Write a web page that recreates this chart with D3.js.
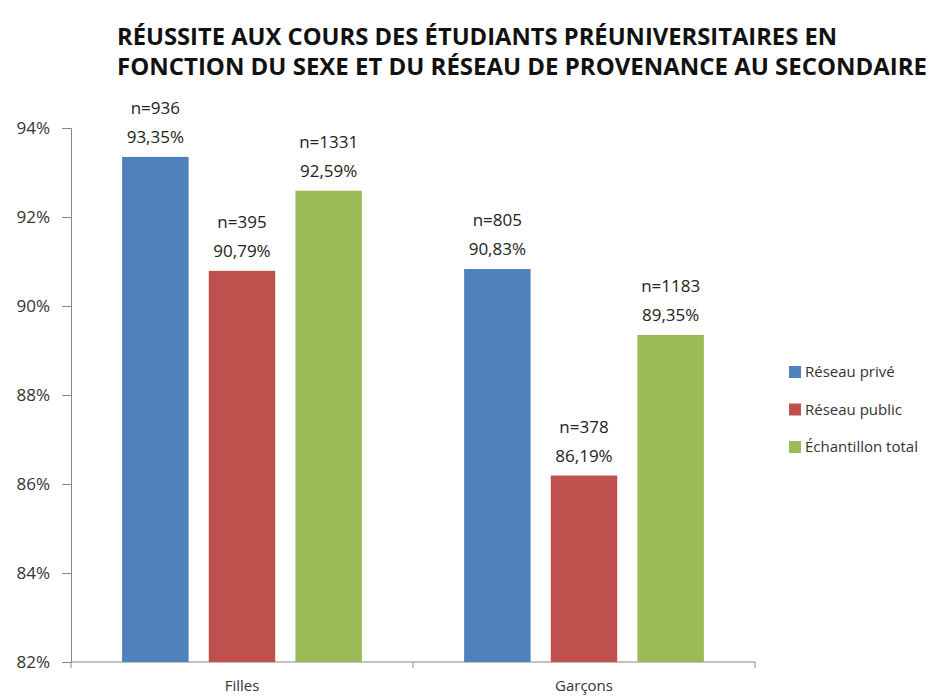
<!DOCTYPE html>
<html>
<head>
<meta charset="utf-8">
<script src="https://cdn.jsdelivr.net/npm/d3@7"></script>
<style>
  body { margin: 0; background: #fff; }
  text { font-family: "Open Sans", sans-serif; fill: #222; }
</style>
</head>
<body>
<script>
// données
const groupes = ["Filles", "Garçons"];
const series = ["Réseau privé", "Réseau public", "Échantillon total"];
const couleurs = ["#4f81bd", "#c0504d", "#9bbb59"];
const valFilles = [93.35, 90.79, 92.59];
const valGarcons = [90.83, 86.19, 89.35];
const nFilles = [936, 395, 1331];
const nGarcons = [805, 378, 1183];
const graduations = [82, 84, 86, 88, 90, 92, 94];

const valeurs = [valFilles, valGarcons];
const effectifs = [nFilles, nGarcons];

const svg = d3.select("body").append("svg")
  .attr("width", 939)
  .attr("height", 697);

// titre
const titre = ["RÉUSSITE AUX COURS DES ÉTUDIANTS PRÉUNIVERSITAIRES EN",
               "FONCTION DU SEXE ET DU RÉSEAU DE PROVENANCE AU SECONDAIRE"];
const longueurs = [720, 810];
svg.selectAll("text.titre")
  .data(titre)
  .enter().append("text")
  .attr("class", "titre")
  .attr("x", 117)
  .attr("y", (d, i) => 45 + i * 30)
  .attr("textLength", (d, i) => longueurs[i])
  .attr("lengthAdjust", "spacingAndGlyphs")
  .style("font-size", "23px")
  .style("font-weight", "bold")
  .style("fill", "#111")
  .text(d => d);

// échelles
const x0 = d3.scaleBand().domain(groupes).range([71, 755]);
const x1 = d3.scaleBand().domain(series).range([0, x0.bandwidth()])
  .paddingInner(0.233).paddingOuter(0.59);
const y = d3.scaleLinear().domain([82, 94]).range([662, 128]);

// axe vertical
const axeY = svg.append("g")
  .attr("transform", "translate(71,0)")
  .call(d3.axisLeft(y).tickValues(graduations).tickSize(9).tickPadding(12)
    .tickFormat(d => d + "%"));
axeY.selectAll("path, line").attr("stroke", "#888");
axeY.selectAll("text").style("font-size", "17px").style("fill", "#333")
  .style("font-family", "'Open Sans', sans-serif");

// axe horizontal
const axeX = svg.append("g").attr("transform", "translate(0,662)");
axeX.append("line").attr("x1", 71).attr("x2", 755).attr("stroke", "#888");
axeX.selectAll("line.tick")
  .data([71, x0("Garçons"), 755])
  .enter().append("line")
  .attr("x1", d => d).attr("x2", d => d)
  .attr("y1", 0).attr("y2", 6)
  .attr("stroke", "#888");
axeX.selectAll("text")
  .data(groupes)
  .enter().append("text")
  .attr("x", d => x0(d) + x0.bandwidth() / 2)
  .attr("y", 29)
  .attr("text-anchor", "middle")
  .style("font-size", "15px")
  .style("fill", "#333")
  .text(d => d);

// barres et étiquettes
groupes.forEach((g, gi) => {
  const donnees = series.map((s, si) => ({
    serie: s, v: valeurs[gi][si], n: effectifs[gi][si], c: couleurs[si]
  }));
  const grp = svg.append("g").attr("transform", `translate(${x0(g)},0)`);
  grp.selectAll("rect")
    .data(donnees)
    .enter().append("rect")
    .attr("x", d => x1(d.serie))
    .attr("width", x1.bandwidth())
    .attr("y", d => y(d.v))
    .attr("height", d => y(82) - y(d.v))
    .attr("fill", d => d.c);
  grp.selectAll("text.pct")
    .data(donnees)
    .enter().append("text")
    .attr("class", "pct")
    .attr("x", d => x1(d.serie) + x1.bandwidth() / 2)
    .attr("y", d => y(d.v) - 14)
    .attr("text-anchor", "middle")
    .style("font-size", "17px")
    .text(d => d3.format(".2f")(d.v).replace(".", ",") + "%");
  grp.selectAll("text.n")
    .data(donnees)
    .enter().append("text")
    .attr("class", "n")
    .attr("x", d => x1(d.serie) + x1.bandwidth() / 2)
    .attr("y", d => y(d.v) - 43)
    .attr("text-anchor", "middle")
    .style("font-size", "17px")
    .text(d => "n=" + d.n);
});

// légende
const legende = svg.append("g").attr("transform", "translate(789,372)");
const items = legende.selectAll("g")
  .data(series)
  .enter().append("g")
  .attr("transform", (d, i) => `translate(0,${i * 37.5})`);
items.append("rect")
  .attr("x", 0).attr("y", -6)
  .attr("width", 12).attr("height", 12)
  .attr("fill", (d, i) => couleurs[i]);
items.append("text")
  .attr("x", 16).attr("y", 5)
  .style("font-size", "15px")
  .style("fill", "#333")
  .text(d => d);
</script>
</body>
</html>
